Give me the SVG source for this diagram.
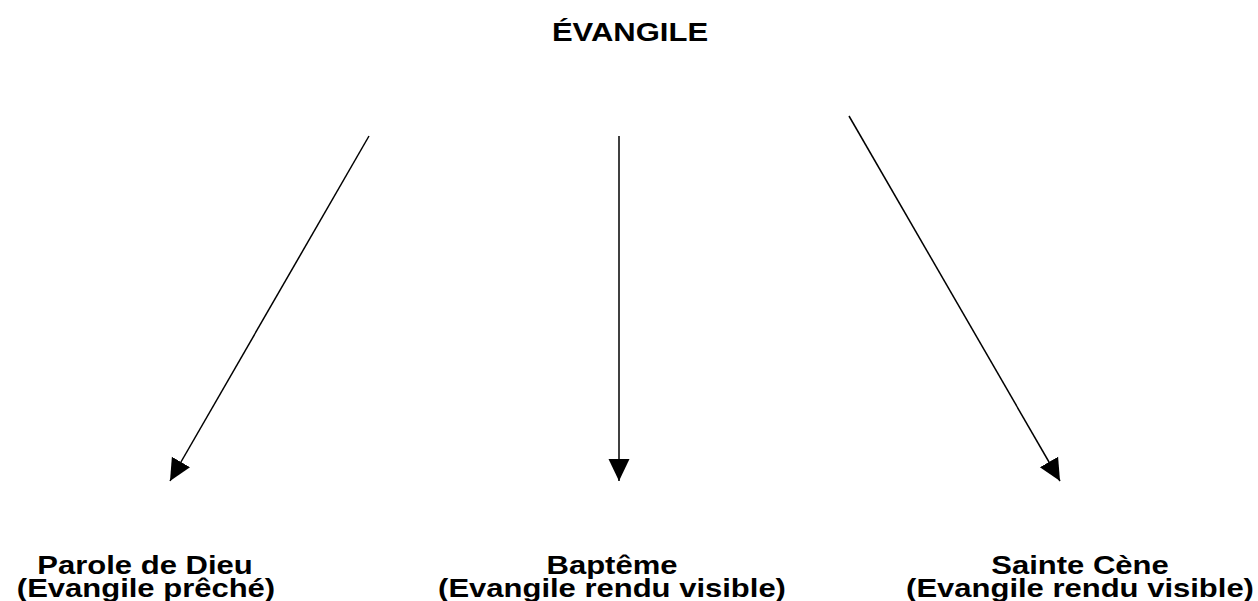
<svg xmlns="http://www.w3.org/2000/svg" width="1258" height="601" viewBox="0 0 1258 601">
  <style>
    .label { font-family: "Liberation Sans", Arial, sans-serif; font-weight: bold; font-size: 26.5px; fill: #000; text-anchor: middle; }
    .conn { stroke: #000; stroke-width: 1.5; fill: none; marker-end: url(#head); }
  </style>
  <defs>
    <marker id="head" markerUnits="userSpaceOnUse" markerWidth="24" markerHeight="22" refX="22" refY="11" orient="auto">
      <path d="M0,0.5 L22,11 L0,21.5 Z" fill="#000"/>
    </marker>
  </defs>
  <rect width="1258" height="601" fill="#fff"/>

  <!-- root node -->
  <g id="evangile">
    <text class="label" transform="translate(630,41) scale(1.17,1)" x="0" y="0">ÉVANGILE</text>
  </g>

  <!-- connectors -->
  <g id="connectors">
    <line class="conn" x1="369" y1="136" x2="170" y2="481"/>
    <line class="conn" x1="619" y1="136" x2="619" y2="481"/>
    <line class="conn" x1="849" y1="116" x2="1060" y2="481"/>
  </g>

  <!-- leaf nodes -->
  <g id="parole">
    <text class="label" transform="translate(145,574) scale(1.17,1)" x="0" y="0">Parole de Dieu</text>
    <text class="label" transform="translate(146,597) scale(1.17,1)" x="0" y="0">(Evangile prêché)</text>
  </g>
  <g id="bapteme">
    <text class="label" transform="translate(612,574) scale(1.17,1)" x="0" y="0">Baptême</text>
    <text class="label" transform="translate(612,597) scale(1.17,1)" x="0" y="0">(Evangile rendu visible)</text>
  </g>
  <g id="sainte-cene">
    <text class="label" transform="translate(1080,574) scale(1.17,1)" x="0" y="0">Sainte Cène</text>
    <text class="label" transform="translate(1080,597) scale(1.17,1)" x="0" y="0">(Evangile rendu visible)</text>
  </g>
</svg>
